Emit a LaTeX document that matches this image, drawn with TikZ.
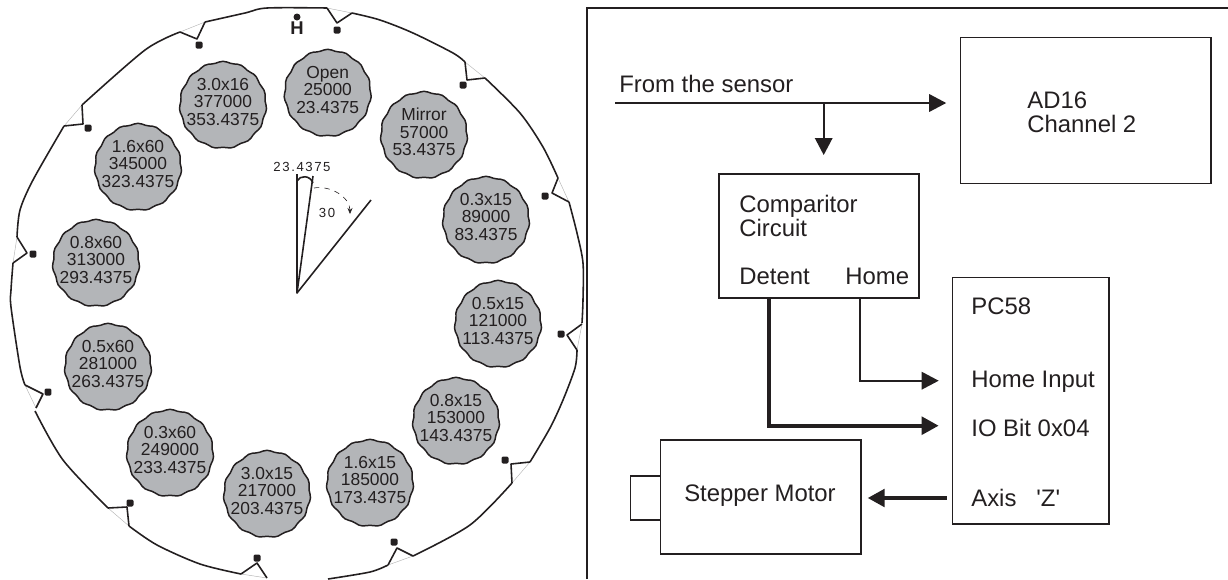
\documentclass[tikz,border=0pt]{standalone}
\usepackage{fontspec}
\setmainfont{Liberation Sans}
\newfontfamily\anglefont[LetterSpace=12]{Liberation Sans}
\usetikzlibrary{arrows.meta}
\definecolor{inkdark}{HTML}{231F20}
\definecolor{discgray}{HTML}{B3B5B8}
\tikzset{WHLdisc/.style={draw=inkdark,fill=discgray,line width=0.85pt,line join=round},
         WHLlab/.style={inner sep=0pt,align=center,text=inkdark,font=\fontsize{9.9pt}{9.9pt}\selectfont},
         WHLdot/.style={rectangle,rounded corners=0.8pt,fill=inkdark,inner sep=0pt,minimum size=0.14cm},
         WHLline/.style={draw=inkdark,line width=0.9pt,line join=round},
         WHLfaint/.style={draw=black!30,line width=0.25pt},
         BLKbox/.style={rectangle,draw=inkdark,line width=0.85pt,inner sep=0pt,outer sep=0pt},
         BLKlab/.style={inner sep=0pt,anchor=base west,align=left,text=inkdark,font=\fontsize{13.6pt}{13.6pt}\selectfont},
         BLKarr/.style={draw=inkdark,line width=0.95pt,-{Triangle[length=0.34cm,width=0.35cm]}},
         BLKfat/.style={BLKarr,line width=2.2pt}}

\begin{document}
\begin{tikzpicture}[x=0.02cm,y=-0.02cm]
  \useasboundingbox (0,0) rectangle (1228,579);
  % filter discs
  \foreach \i/\x/\y/\lbl/\cnt/\ang in {
    0/327.7/93/Open/25000/23.4375,1/424/135/Mirror/57000/53.4375,
    2/486/220/0.3x15/89000/83.4375,3/498/324/0.5x15/121000/113.4375,
    4/456/421/0.8x15/153000/143.4375,5/370/483/1.6x15/185000/173.4375,
    6/267/494/3.0x15/217000/203.4375,7/170/453/0.3x60/249000/233.4375,
    8/108/367/0.5x60/281000/263.4375,9/96/263/0.8x60/313000/293.4375,
    10/138/167/1.6x60/345000/323.4375,11/223/105/3.0x16/377000/353.4375}{
    \draw[WHLdisc,shift={(\x,\y)}] plot[smooth cycle,variable=\t,domain=0:355,samples=72]
      ({(43+0.7*sin(15*\t))*cos(\t)},{(43+0.7*sin(15*\t))*sin(\t)});
    \node[WHLlab] (disc\i) at (\x,\y-3) {\lbl\\\cnt\\\ang};
  }
  % wheel rim
  \draw[WHLline] plot[smooth] coordinates {(352,13) (380,20) (413,33) (453,53) (465,62)};
  \draw[WHLline] plot[smooth] coordinates {(485,78) (520,113) (543,147) (558,178)};
  \draw[WHLline] plot[smooth] coordinates {(569,202) (577,233) (583,263) (583,300) (582,323)};
  \draw[WHLline] plot[smooth] coordinates {(577,350) (575,368) (563,400) (550,428) (530,462)};
  \draw[WHLline] plot[smooth] coordinates {(512,483) (470,525) (413,556)};
  \draw[WHLline] plot[smooth] coordinates {(388,565) (370,572) (328,579)};
  \draw[WHLline] plot[smooth] coordinates {(241,574) (200,564) (157,545) (129,526)};
  \draw[WHLline] plot[smooth] coordinates {(108,508) (63,460) (35,411)};
  \draw[WHLline] plot[smooth] coordinates {(25,385) (20,367) (11,307) (11,290) (13,263)};
  \draw[WHLline] plot[smooth] coordinates {(17,237) (20,210) (33,180) (64,126)};
  \draw[WHLline] plot[smooth] coordinates {(82,105) (145,50) (180,32)};
  \draw[WHLline] plot[smooth] coordinates {(205,22) (245,13) (267,8) (327,8)};
  % detents with their marks
  \foreach \i/\ax/\ay/\bx/\by/\cx/\cy/\dx/\dy in {
    0/352/13/337/23/327/8/337/30,1/465/62/467/80/485/78/463/85,
    2/558/178/552/193/569/202/545/196,3/582/324/567/335/577/350/561/334,
    4/530/462/511/464/512/483/505/460,5/413/556/397/548/388/565/394/542,
    6/267/578/257/563/241/574/257/558,7/129/526/127/507/108/508/130/503,
    8/36/408/43/394/25/385/48/392,9/13/263/27/253/17/237/33/254,
    10/64/126/83/124/82/105/88/128,11/180/32/197/39/205/22/199/45}{
    \draw[WHLfaint] (\ax,\ay) -- (\cx,\cy);
    \draw[WHLline] (\ax,\ay) -- (\bx,\by) -- (\cx,\cy);
    \node[WHLdot] (mark\i) at (\dx,\dy) {};
  }
  % home mark
  \node[circle,fill=inkdark,inner sep=0pt,minimum size=0.14cm] (homedot) at (297,17) {};
  \node[inner sep=0pt,text=inkdark,font=\fontsize{10.5pt}{10.5pt}\bfseries\selectfont] (homelab) at (297,28) {H};
  % angle sketch
  \coordinate (hub) at (297,293);
  \coordinate (rayA) at (297,174);
  \coordinate (rayB) at (313,176);
  \coordinate (rayC) at (371,200);
  \draw[WHLline] (rayA) -- (hub) -- (rayB);
  \draw[WHLline] (hub) -- (rayC);
  \draw[WHLline] (297,181) .. controls (300,175) and (310,175) .. (313,183);
  \draw[draw=inkdark,line width=0.35pt,dashed,-{Stealth[length=0.12cm,width=0.1cm]}] (314,188) .. controls (330,185) and (350,197) .. (350,214);
  \node[inner sep=0pt,text=inkdark,font=\fontsize{7.5pt}{7.5pt}\anglefont] (anglab) at (302,167) {23.4375};
  \node[inner sep=0pt,text=inkdark,font=\fontsize{7.5pt}{7.5pt}\anglefont] (steplab) at (327,213) {30};
  % block diagram panel
  \draw[draw=inkdark,line width=1pt] (586.7,579) -- (586.7,7.7) -- (1228,7.7);
  \node[BLKbox,minimum width=5.006cm,minimum height=2.92cm] (ad16) at (1085.85,110.7) {};
  \node[BLKbox,minimum width=4cm,minimum height=2.48cm] (comp) at (819,236) {};
  \node[BLKbox,minimum width=3.126cm,minimum height=4.926cm] (pc58) at (1030.85,400.85) {};
  \node[BLKbox,minimum width=4.006cm,minimum height=2.28cm] (motor) at (760.85,497) {};
  \node[BLKbox,minimum width=0.6cm,minimum height=0.88cm] (shaft) at (645.7,498) {};
  \node[BLKlab] (sensorlab) at (619,92) {From the sensor};
  \node[BLKlab] (adlab) at (1027,132) {AD16\\Channel 2};
  \node[BLKlab] (complab) at (739,236) {Comparitor\\Circuit};
  \node[BLKlab] (detentlab) at (739,284) {Detent};
  \node[BLKlab] (homeoutlab) at (845,284) {Home};
  \node[BLKlab] (pclab) at (971,314) {PC58};
  \node[BLKlab] (homeinlab) at (971,387.7) {Home Input};
  \node[BLKlab] (iolab) at (971,436) {IO Bit 0x04};
  \node[BLKlab] (axislab) at (971,506) {Axis\ \ \ \textquotesingle Z\textquotesingle};
  \node[BLKlab,anchor=base] (motorlab) at (760,501.7) {Stepper Motor};
  % connectors
  \coordinate (sensor) at (615,103);
  \coordinate (tap) at (823.7,103);
  \coordinate (homeout) at (860,297.8);
  \coordinate (homein) at (952.7,380.7);
  \coordinate (detout) at (769,297.8);
  \coordinate (detin) at (952.7,425.7);
  \coordinate (axisout) at (952.7,498);
  \draw[BLKarr,shorten >=0.29cm] (sensor) -- (ad16.west |- sensor);
  \draw[BLKarr,shorten >=0.38cm] (tap) -- (comp.north -| tap);
  \draw[BLKarr,shorten >=0.28cm] (homeout) |- (homein);
  \draw[BLKfat,shorten >=0.28cm] (detout) |- (detin);
  \draw[BLKfat,shorten <=0.115cm,shorten >=0.134cm] (axisout) -- (motor.east |- axisout);
\end{tikzpicture}
\end{document}
